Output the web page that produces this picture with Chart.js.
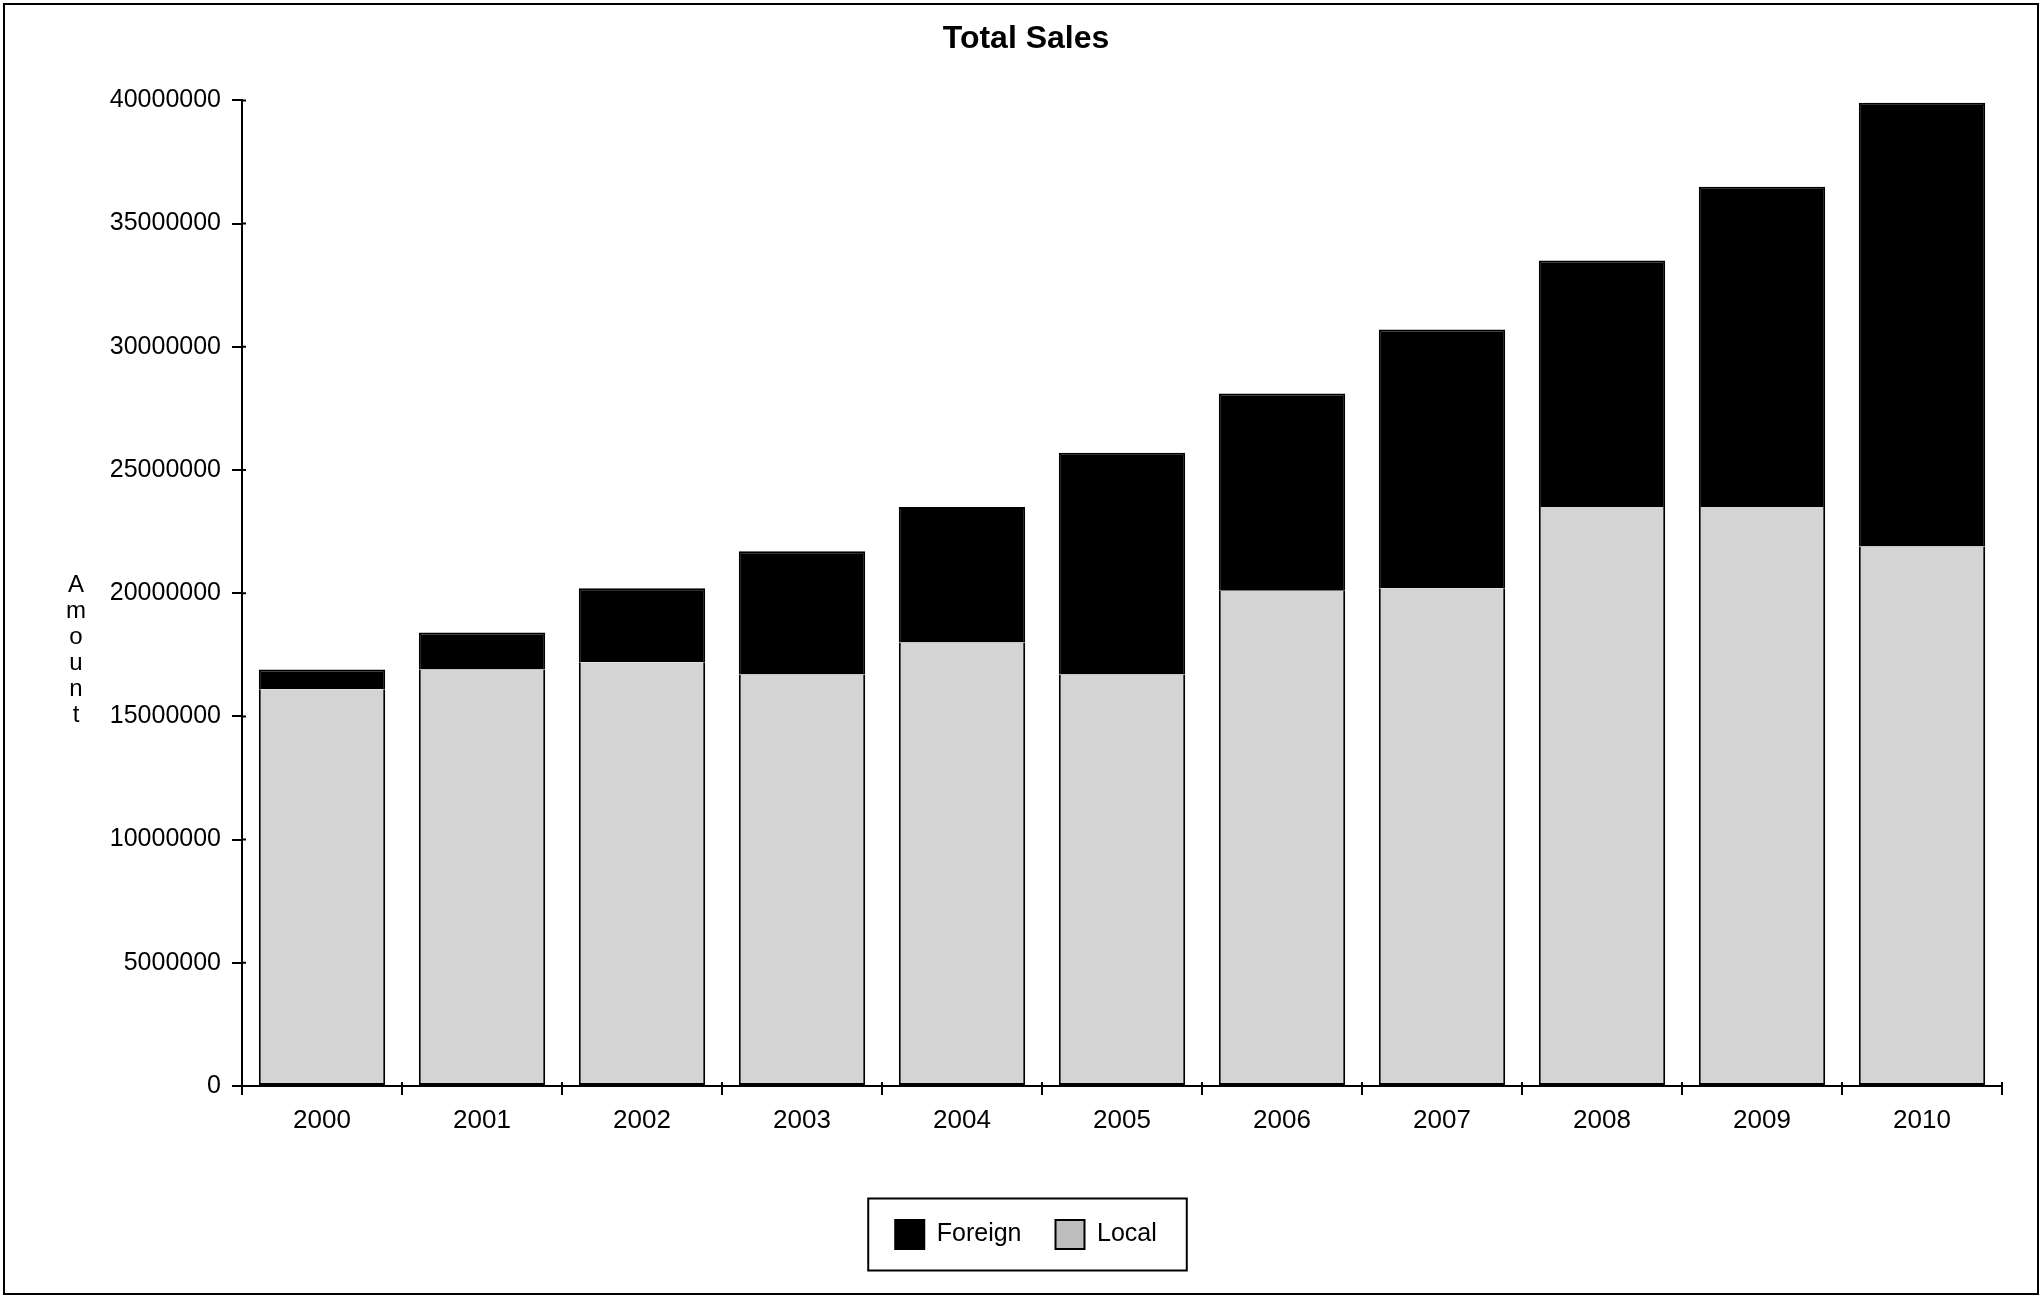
<!DOCTYPE html>
<html>
<head>
<meta charset="utf-8">
<title>Total Sales</title>
<script src="https://cdn.jsdelivr.net/npm/chart.js@4.4.1/dist/chart.umd.min.js"></script>
<style>
    body { margin: 0; background: #fff; }
    #wrap { width: 2042px; height: 1296px; }
</style>
</head>
<body>
<div id="wrap"><canvas id="salesChart" width="2042" height="1296"></canvas></div>
<script>
// Values
const years = ['2000', '2001', '2002', '2003', '2004', '2005', '2006', '2007', '2008', '2009', '2010'];
const foreignSales = [800000, 1500000, 3000000, 5000000, 5500000, 9000000, 8000000, 10500000, 10000000, 13000000, 18000000];
const localSales = [16100000, 16900000, 17200000, 16700000, 18000000, 16700000, 20100000, 20200000, 23500000, 23500000, 21900000];
const yTicks = [0, 5000000, 10000000, 15000000, 20000000, 25000000, 30000000, 35000000, 40000000];

const FONT = '"Liberation Sans", Arial, sans-serif';

// frame round the whole picture, stacked axis title, inner tick stubs, box round the legend
const decorations = {
    id: 'decorations',
    beforeDraw(chart) {
        const ctx = chart.ctx;
        ctx.save();
        ctx.fillStyle = '#fff';
        ctx.fillRect(0, 0, chart.width, chart.height);
        ctx.strokeStyle = '#000';
        ctx.lineWidth = 2;
        ctx.strokeRect(4, 4, chart.width - 8, chart.height - 6);
        ctx.restore();
    },
    afterDraw(chart) {
        const ctx = chart.ctx;
        const area = chart.chartArea;
        const yScale = chart.scales.y;
        ctx.save();

        // small stubs on the inner side of both axes
        ctx.strokeStyle = '#000';
        ctx.lineWidth = 2;
        ctx.beginPath();
        yTicks.forEach(v => {
            const y = yScale.getPixelForValue(v);
            ctx.moveTo(area.left, y);
            ctx.lineTo(area.left + 4, y);
        });
        for (let i = 0; i <= years.length; i++) {
            const x = area.left + (area.right - area.left) * i / years.length;
            ctx.moveTo(x, area.bottom);
            ctx.lineTo(x, area.bottom - 4);
        }
        ctx.stroke();

        ctx.fillStyle = '#000';
        ctx.font = '24px ' + FONT;
        ctx.textAlign = 'center';
        ctx.textBaseline = 'middle';
        const letters = 'Amount'.split('');
        const startY = area.top + (area.bottom - area.top) * 0.492;
        letters.forEach((ch, i) => ctx.fillText(ch, 76, startY + i * 26));

        const boxes = chart.legend.legendHitBoxes;
        if (boxes && boxes.length) {
            const minX = Math.min(...boxes.map(b => b.left));
            const maxX = Math.max(...boxes.map(b => b.left + b.width));
            const midY = boxes[0].top + boxes[0].height / 2;
            ctx.strokeRect(minX - 27, midY - 36, maxX - minX + 57, 72);
        }
        ctx.restore();
    }
};

const ctx = document.getElementById('salesChart').getContext('2d');

new Chart(ctx, {
    type: 'bar',
    data: {
        labels: years,
        datasets: [
            {
                label: 'Local',
                data: localSales,
                backgroundColor: '#d4d4d4',
                borderColor: '#000',
                borderWidth: 2,
                borderSkipped: 'top'
            },
            {
                label: 'Foreign',
                data: foreignSales,
                backgroundColor: '#000',
                borderColor: '#000',
                borderWidth: 2,
                borderSkipped: 'bottom'
            }
        ]
    },
    options: {
        responsive: false,
        animation: false,
        layout: {
            padding: { left: 50, right: 40, top: 0, bottom: 37 }
        },
        datasets: {
            bar: {
                categoryPercentage: 0.79,
                barPercentage: 1
            }
        },
        plugins: {
            title: {
                display: true,
                text: 'Total Sales',
                color: '#000',
                font: { family: FONT, size: 32, weight: 'bold' },
                padding: { top: 20, bottom: 42 }
            },
            legend: {
                position: 'bottom',
                labels: {
                    color: '#000',
                    font: { family: FONT, size: 25 },
                    boxWidth: 29,
                    boxHeight: 29,
                    padding: 34,
                    sort: (a, b) => b.datasetIndex - a.datasetIndex,
                    generateLabels(chart) {
                        const items = Chart.defaults.plugins.legend.labels.generateLabels(chart);
                        items.forEach(item => {
                            item.strokeStyle = '#000';
                            item.lineWidth = 2;
                            if (item.text === 'Local') item.fillStyle = '#bdbdbd';
                        });
                        return items;
                    }
                }
            },
            tooltip: { enabled: false }
        },
        scales: {
            x: {
                stacked: true,
                afterFit(scale) { scale.height = 100; },
                border: { color: '#000', width: 2 },
                grid: {
                    display: true,
                    drawOnChartArea: false,
                    drawTicks: true,
                    tickLength: 9,
                    color: '#000',
                    lineWidth: 2
                },
                ticks: {
                    color: '#000',
                    font: { family: FONT, size: 26 },
                    padding: 10
                }
            },
            y: {
                stacked: true,
                min: 0,
                max: 40000000,
                afterFit(scale) { scale.width = 192; },
                afterBuildTicks(scale) {
                    scale.ticks = yTicks.map(v => ({ value: v }));
                },
                border: { color: '#000', width: 2 },
                grid: {
                    display: true,
                    drawOnChartArea: false,
                    drawTicks: true,
                    tickLength: 10,
                    color: '#000',
                    lineWidth: 2
                },
                ticks: {
                    color: '#000',
                    font: { family: FONT, size: 25 },
                    padding: 11,
                    callback: value => String(value)
                }
            }
        }
    },
    plugins: [decorations]
});
</script>
</body>
</html>
